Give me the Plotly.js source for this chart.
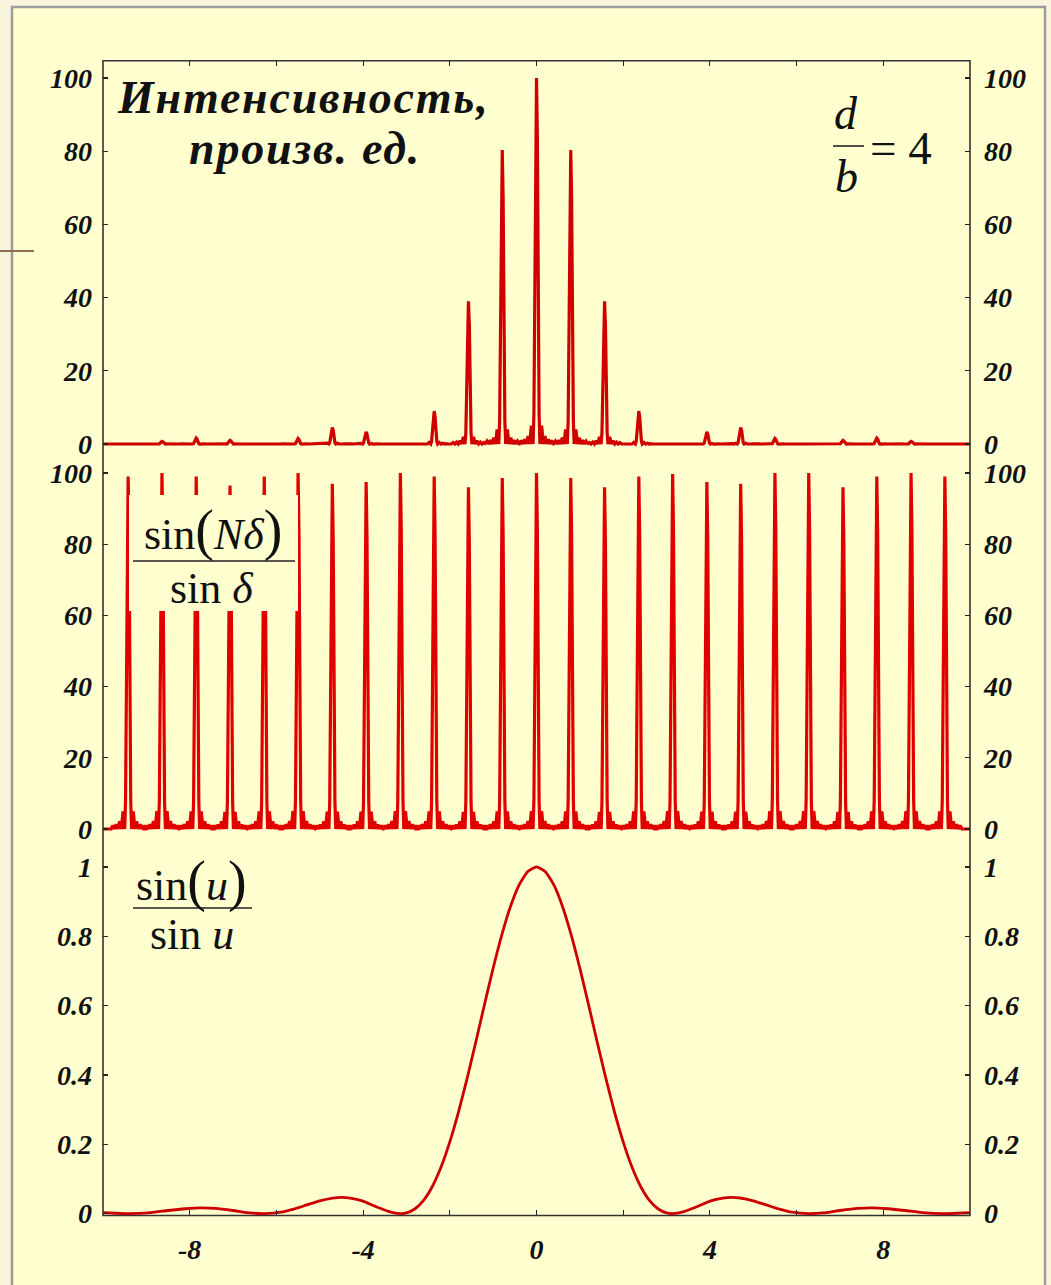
<!DOCTYPE html>
<html>
<head>
<meta charset="utf-8">
<script src="https://cdn.plot.ly/plotly-3.0.1.min.js"></script>
<style>html,body{margin:0;padding:0;background:#F9F5DC;}</style>
</head>
<body>
<div id="chart"></div>
<script>
// ---------- data ----------
// positions of the principal maxima (x)
const peakX = [-9.42, -8.64, -7.85, -7.07, -6.28, -5.50, -4.71, -3.93, -3.14, -2.36, -1.57, -0.79, 0,
               0.79, 1.57, 2.36, 3.14, 3.93, 4.71, 5.50, 6.28, 7.07, 7.85, 8.64, 9.42];
// top panel: intensity at each maximum
const intensityH = [0, 0.7, 1.6, 1.0, 0, 1.5, 4.5, 3.3, 0, 9.0, 39.0, 80.3, 100,
                    80.3, 39.0, 9.0, 0, 3.3, 4.5, 1.5, 0, 1.0, 1.6, 0.7, 0];
// middle panel: grating factor at each maximum
const gratingH = [99, 100, 99, 96.5, 99, 100, 97, 97.5, 100, 99, 96, 98.6, 100,
                  98.6, 96, 99, 99.7, 97.5, 97, 100, 100, 96, 99, 100, 99];
// shape of a maximum and its secondary lobes (offset from the maximum, level relative to it)
const lobeDx  = [0.020, 0.040, 0.060, 0.079, 0.118, 0.157, 0.196, 0.236, 0.275, 0.314, 0.353, 0.393];
const lobeRel = [0.84, 0.40, 0.08, 0.0, 0.050, 0.0, 0.022, 0.0, 0.013, 0.0, 0.010, 0.0];
// bottom panel: single-slit envelope
const envX = [-10, -9.7, -9.42, -8.9, -8.5, -8.1, -7.75, -7.4, -7.0, -6.6, -6.28, -5.9, -5.6, -5.3, -5.0, -4.7, -4.5, -4.3, -4.0, -3.7, -3.4, -3.14,
              -3.0, -2.8, -2.6, -2.4, -2.2, -2.0, -1.8, -1.6, -1.4, -1.2, -1.0, -0.8, -0.6, -0.4, -0.2, 0,
              0.2, 0.4, 0.6, 0.8, 1.0, 1.2, 1.4, 1.6, 1.8, 2.0, 2.2, 2.4, 2.6, 2.8, 3.0,
              3.14, 3.4, 3.7, 4.0, 4.3, 4.5, 4.7, 5.0, 5.3, 5.6, 5.9, 6.28, 6.6, 7.0, 7.4, 7.75, 8.1, 8.5, 8.9, 9.42, 9.7, 10];
const envY = [0.003, 0.001, 0, 0.003, 0.009, 0.014, 0.0165, 0.015, 0.009, 0.002, 0, 0.004, 0.013, 0.025, 0.037, 0.045, 0.047, 0.045, 0.036, 0.020, 0.006, 0,
              0.002, 0.014, 0.039, 0.079, 0.135, 0.207, 0.293, 0.390, 0.495, 0.603, 0.708, 0.804, 0.886, 0.948, 0.987, 1.0,
              0.987, 0.948, 0.886, 0.804, 0.708, 0.603, 0.495, 0.390, 0.293, 0.207, 0.135, 0.079, 0.039, 0.014, 0.002,
              0, 0.006, 0.020, 0.036, 0.045, 0.047, 0.045, 0.037, 0.025, 0.013, 0.004, 0, 0.002, 0.009, 0.015, 0.0165, 0.014, 0.009, 0.003, 0, 0.001, 0.003];
// axis ticks
const yTicksPct = [0, 20, 40, 60, 80, 100];
const yTicksRel = [0, 0.2, 0.4, 0.6, 0.8, 1];
const yTextRel  = ['0', '0.2', '0.4', '0.6', '0.8', '1'];
const xTickVals = [-8, -6, -4, -2, 0, 2, 4, 6, 8];
const xTickText = ['-8', '', '-4', '', '0', '', '4', '', '8'];

// ---------- build the spike lines from the maxima ----------
function spikes(xs, hs) {
  const X = [-10], Y = [0];
  for (let i = 0; i < xs.length; i++) {
    const s = hs[i];
    for (let j = lobeDx.length - 1; j >= 0; j--) { X.push(xs[i] - lobeDx[j]); Y.push(lobeRel[j] * s); }
    X.push(xs[i]); Y.push(s);
    for (let j = 0; j < lobeDx.length; j++) { X.push(xs[i] + lobeDx[j]); Y.push(lobeRel[j] * s); }
  }
  X.push(10); Y.push(0);
  return {X, Y};
}
const topSeries = spikes(peakX, intensityH);
const midSeries = spikes(peakX, gratingH);

const W = 1051, H = 1285;
const fx = x => x / W, fy = y => 1 - y / H;
const SERIF = 'Liberation Serif, Times New Roman, serif';
const tickFont = {family: SERIF, size: 28, color: '#111', weight: 'bold', style: 'italic'};
const hidden = {color: 'rgba(0,0,0,0)', width: 0.1};

const traces = [
  {x: topSeries.X, y: topSeries.Y, xaxis: 'x', yaxis: 'y', mode: 'lines', line: {color: '#D00000', width: 3.2}, hoverinfo: 'skip'},
  {x: midSeries.X, y: midSeries.Y, xaxis: 'x2', yaxis: 'y2', mode: 'lines', line: {color: '#E00000', width: 3.2}, hoverinfo: 'skip'},
  {x: envX, y: envY, xaxis: 'x3', yaxis: 'y3', mode: 'lines', line: {color: '#CC0000', width: 2.8, shape: 'spline', smoothing: 0.5}, hoverinfo: 'skip'},
  // the same series on the right-hand duplicate axes (invisible), so those axes get drawn
  {x: topSeries.X, y: topSeries.Y, xaxis: 'x', yaxis: 'y4', mode: 'lines', line: hidden, hoverinfo: 'skip'},
  {x: midSeries.X, y: midSeries.Y, xaxis: 'x2', yaxis: 'y5', mode: 'lines', line: hidden, hoverinfo: 'skip'},
  {x: envX, y: envY, xaxis: 'x3', yaxis: 'y6', mode: 'lines', line: hidden, hoverinfo: 'skip'}
];

const xDom = [fx(103), fx(970)];
const dTop = [fy(455), fy(60.7)], dMid = [fy(848), fy(455)], dBot = [fy(1215), fy(848)];
const rTop = [-3.0, 104.73], rMid = [-5.34, 105.06], rBot = [-0.004, 1.0546];

function yax(dom, rng, vals, txt, side, overl) {
  const a = {domain: dom, range: rng, tickmode: 'array', tickvals: vals, ticktext: txt,
    ticks: 'inside', ticklen: 5, tickwidth: 1.3, tickcolor: '#222', tickfont: tickFont,
    showgrid: false, zeroline: false, showline: false, fixedrange: true, side: side, ticklabelstandoff: side === 'left' ? 10 : 13};
  if (overl) { a.overlaying = overl; }
  return a;
}
const pctTxt = yTicksPct.map(String);

const layout = {
  width: W, height: H, margin: {l: 0, r: 0, t: 0, b: 0},
  paper_bgcolor: '#F9F5DC', plot_bgcolor: 'rgba(0,0,0,0)', showlegend: false,
  xaxis: {domain: xDom, range: [-10, 10], anchor: 'y', side: 'top', tickmode: 'array', tickvals: xTickVals,
          ticks: 'inside', ticklen: 5, tickcolor: '#222', showticklabels: false, showgrid: false, zeroline: false, showline: false},
  xaxis2: {domain: xDom, range: [-10, 10], anchor: 'y2', showticklabels: false, ticks: '', showgrid: false, zeroline: false, showline: false},
  xaxis3: {domain: xDom, range: [-10, 10], anchor: 'y3', tickmode: 'array', tickvals: xTickVals, ticktext: xTickText,
           ticks: 'inside', ticklen: 5, tickcolor: '#222', tickfont: tickFont, ticklabelstandoff: 15,
           showgrid: false, zeroline: false, showline: false},
  yaxis:  yax(dTop, rTop, yTicksPct, pctTxt, 'left'),
  yaxis2: yax(dMid, rMid, yTicksPct, pctTxt, 'left'),
  yaxis3: yax(dBot, rBot, yTicksRel, yTextRel, 'left'),
  yaxis4: Object.assign(yax(dTop, rTop, yTicksPct, pctTxt, 'right', 'y'), {anchor: 'x'}),
  yaxis5: Object.assign(yax(dMid, rMid, yTicksPct, pctTxt, 'right', 'y2'), {anchor: 'x2'}),
  yaxis6: Object.assign(yax(dBot, rBot, yTicksRel, yTextRel, 'right', 'y3'), {anchor: 'x3'}),
  shapes: [
    {type: 'rect', xref: 'paper', yref: 'paper', x0: fx(12), x1: fx(1045), y0: fy(1300), y1: fy(7),
     fillcolor: '#FFFFCF', line: {color: '#9C9C9C', width: 2.5}, layer: 'below'},
    {type: 'line', xref: 'paper', yref: 'paper', x0: fx(0), x1: fx(34), y0: fy(251), y1: fy(251),
     line: {color: '#8D6E4E', width: 2}, layer: 'below'},
    {type: 'rect', xref: 'paper', yref: 'paper', x0: xDom[0], x1: xDom[1], y0: fy(1215.5), y1: fy(60.7),
     line: {color: '#333', width: 1.6}, layer: 'below'},
    {type: 'rect', xref: 'paper', yref: 'paper', x0: fx(129), x1: fx(298), y0: fy(611), y1: fy(495),
     fillcolor: '#FFFFCF', line: {width: 0}, layer: 'above'},
    {type: 'line', xref: 'paper', yref: 'paper', x0: fx(833), x1: fx(864), y0: fy(146), y1: fy(146), line: {color: '#222', width: 1.6}, layer: 'above'},
    {type: 'line', xref: 'paper', yref: 'paper', x0: fx(133), x1: fx(295), y0: fy(561), y1: fy(561), line: {color: '#222', width: 1.6}, layer: 'above'},
    {type: 'line', xref: 'paper', yref: 'paper', x0: fx(133), x1: fx(252), y0: fy(908), y1: fy(908), line: {color: '#222', width: 1.6}, layer: 'above'}
  ],
  annotations: []
};

function note(x, y, text, size, extra) {
  return Object.assign({xref: 'paper', yref: 'paper', x: fx(x), y: fy(y), text: text, showarrow: false,
    xanchor: 'center', yanchor: 'middle', font: {family: SERIF, size: size, color: '#111'}}, extra || {});
}
const bi = {family: SERIF, size: 46, color: '#111', weight: 'bold', style: 'italic'};
const wide = t => '<span style="letter-spacing:1.8px">' + t + '</span>';
layout.annotations.push(
  note(303, 98, wide('Интенсивность,'), 46, {font: bi}),
  note(305, 148.5, wide('произв. ед.'), 46, {font: bi}),
  note(846, 113, '<i>d</i>', 46),
  note(846, 177, '<i>b</i>', 46),
  note(901, 148, '= 4', 47),
  note(213, 530, 'sin<span style="font-size:56px">(</span><i>Nδ</i><span style="font-size:56px">)</span>', 44),
  note(212, 589, 'sin <i>δ</i>', 44),
  note(191, 881, 'sin<span style="font-size:56px">(</span><i>u</i><span style="font-size:56px">)</span>', 44),
  note(192, 934, 'sin <i>u</i>', 44)
);

Plotly.newPlot('chart', traces, layout, {staticPlot: true, displayModeBar: false});
</script>
</body>
</html>
